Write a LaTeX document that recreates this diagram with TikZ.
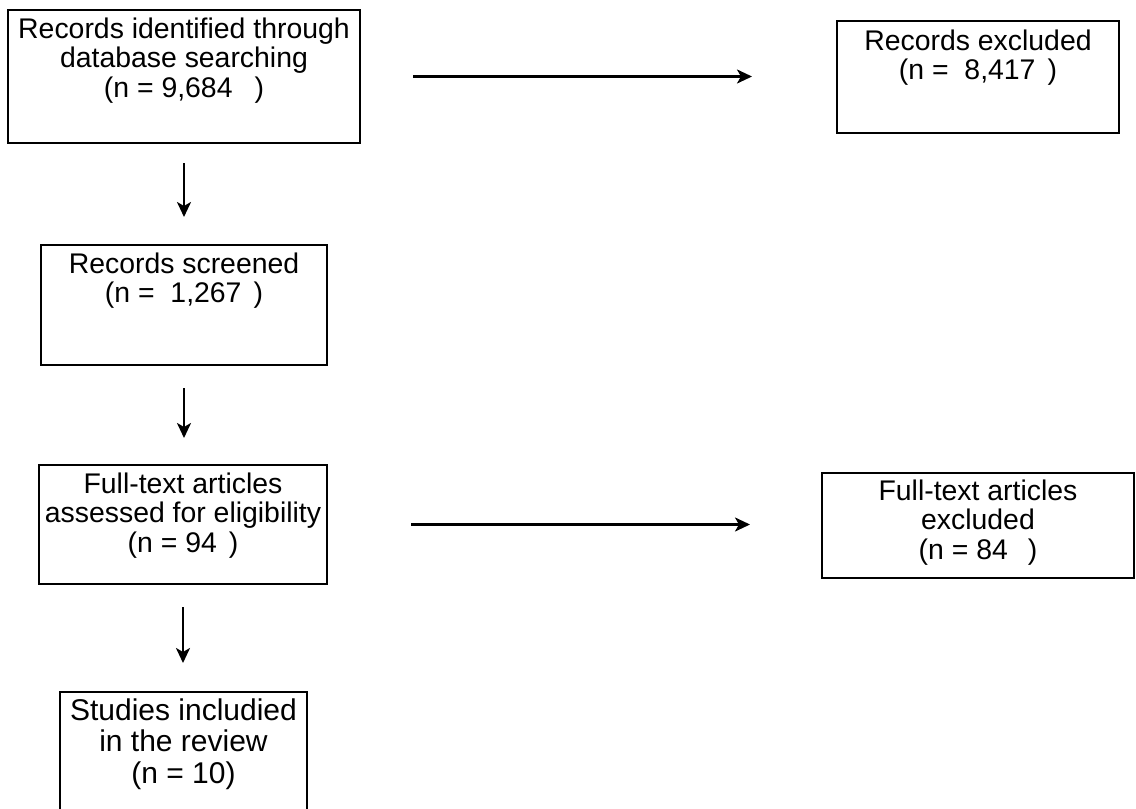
\documentclass[tikz,border=0pt]{standalone}
\usepackage{fontspec}
\setmainfont{Liberation Sans}
\usetikzlibrary{arrows.meta}
\newcommand{\bxt}[4]{\parbox[c][#2pt][t]{#1pt}{\centering\rule{0pt}{#3pt}#4}}
\tikzset{
  flowbox/.style={draw, line width=2.3pt, inner sep=0pt, outer sep=0pt, anchor=north west,
    font={\fontsize{28.4}{29.5}\selectfont}},
  bigbox/.style={flowbox, font={\fontsize{30}{31.5}\selectfont}},
  arr/.style={line width=2.4pt, -{Stealth[length=15pt,width=14pt,inset=4pt]}}
}
\begin{document}
\begin{tikzpicture}[x=1pt,y=-1pt]
\useasboundingbox (0,0) rectangle (1136,809);
\clip (0,0) rectangle (1136,809);
\fill[white] (0,0) rectangle (1136,809);
\node[flowbox] (b1) at (8,10) {\bxt{352}{133}{28}{Records identified through\\database searching\\(n = 9,684\hspace{22pt})}};
\node[flowbox] (b2) at (41,245) {\bxt{286}{120}{28}{Records screened\\(n =\ \ 1,267\hspace{12pt})}};
\node[flowbox] (b3) at (39,465) {\bxt{288}{119}{28}{Full-text articles\\assessed for eligibility\\(n = 94\hspace{12pt})}};
\node[bigbox] (b4) at (60,692) {\bxt{247}{140}{28}{Studies includied\\in the review\\(n = 10)}};
\node[flowbox] (r1) at (837,21) {\bxt{282}{112}{29}{Records excluded\\(n =\ \ 8,417\hspace{12pt})}};
\node[flowbox] (r2) at (822,473) {\bxt{312}{105}{27}{Full-text articles\\excluded\\(n = 84\hspace{20pt})}};
\draw[arr, shorten <=53pt, shorten >=85pt] (b1.east) -- (b1.east -| r1.west);
\draw[arr, shorten <=84pt, shorten >=72pt] (b3.east) -- (b3.east -| r2.west);
\draw[arr, shorten <=20pt, shorten >=28pt] (b1.south) -- (b1.south |- b2.north);
\draw[arr, shorten <=23pt, shorten >=27pt] (b2.south) -- (b2.south |- b3.north);
\draw[arr, shorten <=23pt, shorten >=29pt] (b3.south) -- (b3.south |- b4.north);
\end{tikzpicture}
\end{document}
